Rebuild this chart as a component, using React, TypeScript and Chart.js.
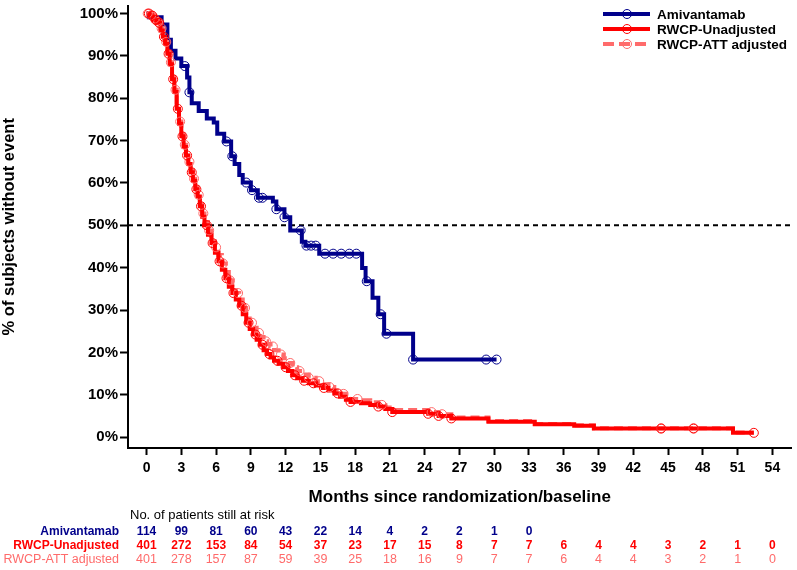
import { useEffect, useRef } from "react";
import { Chart, registerables } from "chart.js";

Chart.register(...registerables);

const FONT = "'Liberation Sans', Arial, sans-serif";
const BLUE = "#00008b";
const RED = "#ff0000";
const PINK = "#ff6b6b";

// axis ticks
const X_TICKS = [0, 3, 6, 9, 12, 15, 18, 21, 24, 27, 30, 33, 36, 39, 42, 45, 48, 51, 54];
const Y_TICKS = [0, 10, 20, 30, 40, 50, 60, 70, 80, 90, 100];
const MEDIAN_LINE = 50;

// Amivantamab KM steps (months, % without event)
const AMI_TIME = [0, 0.2, 1.3, 1.8, 2.1, 2.5, 3.0, 3.5, 3.7, 3.9, 4.5, 5.2, 5.8, 6.1, 6.7, 7.3, 7.6, 8.0, 8.3, 9.0, 9.6, 10.9, 11.2, 11.9, 12.4, 13.4, 13.7, 14.9, 18.6, 18.9, 19.5, 20.0, 20.5, 23.0, 30.2];
const AMI_SURV = [100, 99.1, 97.4, 93.8, 91.2, 89.4, 87.6, 84.9, 81.4, 78.8, 77.0, 75.2, 74.3, 71.6, 69.8, 66.3, 64.5, 61.9, 60.1, 58.3, 56.5, 55.6, 53.8, 51.9, 48.8, 46.1, 45.2, 43.3, 39.9, 36.8, 32.9, 29.0, 24.4, 18.3, 18.3];
const AMI_CENSOR = [3.3, 3.7, 6.9, 7.4, 8.6, 9.1, 9.7, 10.0, 11.2, 11.9, 13.3, 13.8, 14.2, 14.6, 15.4, 16.1, 16.8, 17.5, 18.1, 19.0, 20.2, 20.7, 23.0, 29.3, 30.2];

// RWCP unadjusted KM steps
const UNADJ_TIME = [0, 0.3, 0.6, 0.9, 1.2, 1.4, 1.6, 1.8, 2.0, 2.2, 2.4, 2.6, 2.8, 3.0, 3.2, 3.4, 3.6, 3.8, 4.0, 4.2, 4.4, 4.6, 4.8, 5.0, 5.3, 5.6, 5.9, 6.2, 6.5, 6.8, 7.1, 7.4, 7.7, 8.0, 8.3, 8.6, 8.9, 9.2, 9.5, 9.8, 10.1, 10.4, 10.7, 11.0, 11.4, 11.8, 12.2, 12.6, 13.0, 13.5, 14.0, 14.6, 15.2, 15.7, 16.2, 16.7, 17.2, 17.6, 18.5, 19.3, 20.0, 20.6, 21.2, 24.3, 25.2, 26.3, 29.5, 33.5, 36.9, 38.6, 50.6, 52.4];
const UNADJ_SURV = [100, 99.5, 98.5, 97.8, 96.0, 94.5, 92.8, 90.5, 88.0, 84.5, 81.5, 77.5, 74.0, 71.0, 68.5, 66.5, 64.5, 62.5, 60.5, 58.5, 56.8, 54.5, 52.0, 50.0, 47.8, 45.8, 43.5, 41.5, 39.5, 37.5, 35.5, 34.0, 32.5, 31.0, 29.0, 27.0, 25.5, 24.2, 23.0, 21.8, 20.5, 19.6, 18.8, 18.0, 17.3, 16.5, 15.6, 14.6, 13.9, 13.3, 12.7, 12.2, 11.6, 11.0, 10.3, 9.5, 8.8, 8.3, 8.0, 7.6, 7.2, 6.6, 5.9, 5.5, 5.0, 4.4, 3.6, 3.0, 2.7, 2.0, 1.0, 1.0];
const UNADJ_CENSOR = [0.2, 0.5, 0.8, 1.1, 1.5, 1.9, 2.3, 2.7, 3.1, 3.5, 3.9, 4.3, 4.7, 5.2, 5.7, 6.3, 6.9, 7.5, 8.2, 8.8, 9.4, 10.0, 10.6, 11.3, 12.0, 12.8, 13.6, 14.4, 15.3, 16.5, 17.6, 20.0, 21.2, 24.3, 25.2, 26.3, 44.4, 47.2, 52.4];

// RWCP ATT adjusted KM steps
const ATT_TIME = [0, 0.3, 0.6, 0.9, 1.2, 1.4, 1.6, 1.8, 2.0, 2.2, 2.4, 2.6, 2.8, 3.0, 3.2, 3.4, 3.6, 3.8, 4.0, 4.2, 4.4, 4.6, 4.8, 5.0, 5.3, 5.6, 5.9, 6.2, 6.5, 6.8, 7.1, 7.4, 7.7, 8.0, 8.3, 8.6, 8.9, 9.2, 9.5, 9.8, 10.1, 10.4, 10.7, 11.0, 11.4, 11.8, 12.2, 12.6, 13.0, 13.5, 14.0, 14.6, 15.2, 15.7, 16.2, 16.7, 17.2, 17.6, 18.5, 19.3, 20.0, 20.6, 21.2, 24.3, 25.2, 26.3, 29.5, 33.5, 36.9, 38.6, 50.6, 52.4];
const ATT_SURV = [100, 99.6, 98.8, 98.0, 96.5, 95.0, 93.3, 91.0, 88.5, 85.0, 82.0, 78.0, 74.5, 71.5, 69.0, 67.0, 65.0, 63.0, 61.0, 59.0, 57.2, 55.0, 52.8, 50.8, 48.8, 46.8, 44.8, 43.0, 41.0, 39.0, 37.0, 35.5, 34.0, 32.5, 30.5, 28.5, 27.0, 25.8, 24.6, 23.6, 22.6, 22.0, 21.4, 20.5, 19.5, 18.6, 17.5, 16.5, 15.6, 14.8, 14.0, 13.2, 12.5, 11.8, 11.0, 10.2, 9.5, 9.0, 8.7, 8.2, 7.6, 7.0, 6.4, 5.9, 5.4, 4.6, 3.8, 3.1, 2.8, 2.1, 1.1, 1.1];
const ATT_CENSOR = [0.1, 0.4, 0.7, 1.0, 1.3, 1.7, 2.1, 2.5, 2.9, 3.3, 3.7, 4.1, 4.5, 4.9, 5.4, 6.0, 6.6, 7.2, 7.9, 8.5, 9.1, 9.7, 10.3, 10.9, 11.6, 12.4, 13.2, 14.0, 14.9, 15.8, 17.0, 18.2, 20.3, 24.6, 25.5, 44.4, 47.2];

// number at risk table
const RISK_HEADER = "No. of patients still at risk";
const RISK_LABELS = ["Amivantamab", "RWCP-Unadjusted", "RWCP-ATT adjusted"];
const RISK_AMI = [114, 99, 81, 60, 43, 22, 14, 4, 2, 2, 1, 0];
const RISK_UNADJ = [401, 272, 153, 84, 54, 37, 23, 17, 15, 8, 7, 7, 6, 4, 4, 3, 2, 1, 0];
const RISK_ATT = [401, 278, 157, 87, 59, 39, 25, 18, 16, 9, 7, 7, 6, 4, 4, 3, 2, 1, 0];

const toPoints = (times: number[], surv: number[]) => times.map((t, i) => ({ x: t, y: surv[i] }));

// survival value of the step function at time t
const survAt = (times: number[], surv: number[], t: number) => {
    let s = surv[0];
    for (let i = 0; i < times.length; i++) {
        if (times[i] <= t) s = surv[i];
    }
    return s;
};

const censorPoints = (censor: number[], times: number[], surv: number[]) =>
    censor.map(t => ({ x: t, y: survAt(times, surv, t) }));

const overlayPlugin = {
    id: "kmOverlay",
    beforeDatasetsDraw(chart: any) {
        const { ctx, chartArea, scales } = chart;
        const y = scales.y.getPixelForValue(MEDIAN_LINE);
        ctx.save();
        ctx.strokeStyle = "#000";
        ctx.lineWidth = 2;
        ctx.setLineDash([5, 4]);
        ctx.beginPath();
        ctx.moveTo(chartArea.left, y);
        ctx.lineTo(chartArea.right, y);
        ctx.stroke();
        ctx.restore();
    },
    afterDraw(chart: any) {
        const { ctx, scales } = chart;
        ctx.save();

        // legend
        const legend = [
            { label: "Amivantamab", color: BLUE, dash: [] as number[] },
            { label: "RWCP-Unadjusted", color: RED, dash: [] as number[] },
            { label: "RWCP-ATT adjusted", color: PINK, dash: [11, 5] },
        ];
        legend.forEach((item, i) => {
            const y = 14 + i * 15;
            ctx.strokeStyle = item.color;
            ctx.lineWidth = 4;
            ctx.setLineDash(item.dash);
            ctx.beginPath();
            ctx.moveTo(603, y);
            ctx.lineTo(650, y);
            ctx.stroke();
            ctx.setLineDash([]);
            ctx.lineWidth = 1;
            ctx.beginPath();
            ctx.arc(627, y, 4.5, 0, Math.PI * 2);
            ctx.stroke();
            ctx.fillStyle = "#000";
            ctx.font = `bold 13.5px ${FONT}`;
            ctx.textAlign = "left";
            ctx.textBaseline = "middle";
            ctx.fillText(item.label, 657, y + 1);
        });

        // risk table
        ctx.fillStyle = "#000";
        ctx.font = `13px ${FONT}`;
        ctx.textAlign = "left";
        ctx.textBaseline = "middle";
        ctx.fillText(RISK_HEADER, 130, 515);

        const rows = [
            { values: RISK_AMI, color: BLUE, font: `bold 12px ${FONT}` },
            { values: RISK_UNADJ, color: RED, font: `bold 12px ${FONT}` },
            { values: RISK_ATT, color: PINK, font: `12.5px ${FONT}` },
        ];
        rows.forEach((row, r) => {
            const y = 532 + r * 14;
            ctx.fillStyle = row.color;
            ctx.font = row.font;
            ctx.textAlign = "right";
            ctx.fillText(RISK_LABELS[r], 119, y);
            ctx.textAlign = "center";
            row.values.forEach((v, i) => {
                ctx.fillText(String(v), scales.x.getPixelForValue(X_TICKS[i]), y);
            });
        });
        ctx.restore();
    },
};

export default function App() {
    const canvasRef = useRef<HTMLCanvasElement>(null);
    const chartRef = useRef<Chart | null>(null);

    useEffect(() => {
        if (!canvasRef.current) return;
        if (chartRef.current) chartRef.current.destroy();

        const censorStyle = (color: string) => ({
            showLine: false,
            pointRadius: 4.5,
            pointStyle: "circle",
            pointBorderWidth: 1,
            pointBackgroundColor: "rgba(0,0,0,0)",
            pointBorderColor: color,
            borderColor: color,
            backgroundColor: "rgba(0,0,0,0)",
        });

        const lineStyle = (color: string, dash: number[]) => ({
            stepped: "before" as const,
            borderColor: color,
            borderWidth: 4,
            borderDash: dash,
            pointRadius: 0,
            fill: false,
        });

        chartRef.current = new Chart(canvasRef.current, {
            type: "line",
            data: {
                datasets: [
                    { label: "unadj censored", data: censorPoints(UNADJ_CENSOR, UNADJ_TIME, UNADJ_SURV), ...censorStyle(RED) },
                    { label: "att censored", data: censorPoints(ATT_CENSOR, ATT_TIME, ATT_SURV), ...censorStyle(PINK) },
                    { label: "RWCP-Unadjusted", data: toPoints(UNADJ_TIME, UNADJ_SURV), ...lineStyle(RED, []) },
                    { label: "RWCP-ATT adjusted", data: toPoints(ATT_TIME, ATT_SURV), ...lineStyle(PINK, [9, 5]) },
                    { label: "ami censored", data: censorPoints(AMI_CENSOR, AMI_TIME, AMI_SURV), ...censorStyle(BLUE) },
                    { label: "Amivantamab", data: toPoints(AMI_TIME, AMI_SURV), ...lineStyle(BLUE, []) },
                ] as any,
            },
            options: {
                animation: false,
                responsive: true,
                maintainAspectRatio: false,
                layout: { padding: { top: 2, right: 2, bottom: 0, left: 0 } },
                plugins: {
                    legend: { display: false },
                    tooltip: { enabled: false },
                },
                scales: {
                    x: {
                        type: "linear",
                        min: -1.6,
                        max: 55.65,
                        afterBuildTicks: (axis: any) => { axis.ticks = X_TICKS.map(value => ({ value })); },
                        afterFit: (scale: any) => { scale.height = 122; scale.paddingLeft = 0; scale.paddingRight = 0; },
                        grid: { drawOnChartArea: false, drawTicks: true, tickLength: 7, tickWidth: 2, tickColor: "#000" },
                        border: { display: true, color: "#000", width: 2 },
                        ticks: {
                            color: "#000",
                            padding: 5,
                            maxRotation: 0,
                            autoSkip: false,
                            font: { family: FONT, size: 14, weight: "bold" },
                        },
                        title: {
                            display: true,
                            text: "Months since randomization/baseline",
                            color: "#000",
                            font: { family: FONT, size: 17, weight: "bold" },
                            padding: { top: 4, bottom: 62 },
                        },
                    },
                    y: {
                        type: "linear",
                        min: -2.58,
                        max: 101.9,
                        afterBuildTicks: (axis: any) => { axis.ticks = Y_TICKS.map(value => ({ value })); },
                        afterFit: (scale: any) => { scale.width = 128; scale.paddingTop = 0; scale.paddingBottom = 0; },
                        grid: { drawOnChartArea: false, drawTicks: true, tickLength: 8, tickWidth: 2, tickColor: "#000" },
                        border: { display: true, color: "#000", width: 2 },
                        ticks: {
                            color: "#000",
                            padding: 2,
                            autoSkip: false,
                            font: { family: FONT, size: 15, weight: "bold" },
                            callback: (v: any) => `${v}%`,
                        },
                        title: {
                            display: true,
                            text: "% of subjects without event",
                            color: "#000",
                            font: { family: FONT, size: 16.5, weight: "bold" },
                            padding: { top: 0, bottom: 0 },
                        },
                    },
                },
            },
            plugins: [overlayPlugin],
        });

        return () => {
            if (chartRef.current) {
                chartRef.current.destroy();
                chartRef.current = null;
            }
        };
    }, []);

    return (
        <div style={{ position: "absolute", left: 0, top: 0, width: 797, height: 570, background: "#fff" }}>
            <canvas ref={canvasRef}></canvas>
        </div>
    );
}
